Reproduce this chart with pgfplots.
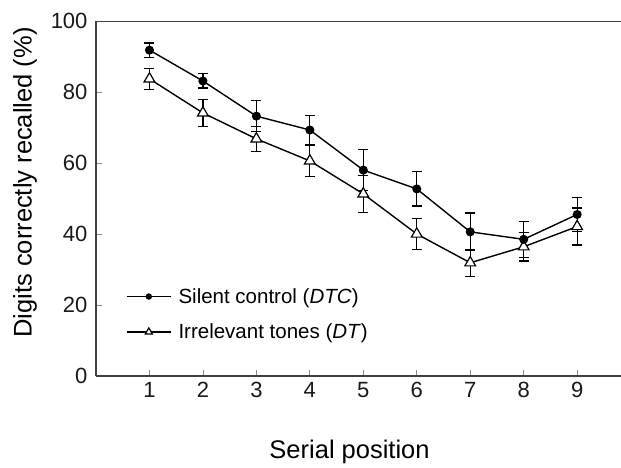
\documentclass[border=0pt]{standalone}
\usepackage{fontspec}
\setmainfont{Liberation Sans}
\usepackage{pgfplots}
\pgfplotsset{compat=1.18}
\begin{document}
\begin{tikzpicture}
\useasboundingbox (-96pt,-91pt) rectangle (525pt,376pt);
\begin{axis}[
  at={(0,0)}, anchor=south west,
  scale only axis, width=525pt, height=355pt,
  xmin=0, xmax=9.82, ymin=0, ymax=100,
  axis lines=left,
  axis line style={-, draw=black!75, line width=1.4pt},
  xtick={1,...,9}, ytick={0,20,...,100},
  tick align=inside, major tick length=6pt,
  tick style={black!45, line width=0.8pt},
  tick label style={font=\fontsize{22}{24}\selectfont, text=black!90},
  yticklabel style={xshift=-5pt},
  xticklabel style={yshift=-3pt},
  /pgf/number format/assume math mode=true,
  xlabel={Serial position},
  ylabel={Digits correctly recalled (\%)},
  label style={font=\fontsize{25.5}{28}\selectfont},
  xlabel style={at={(axis description cs:0.483,-0.214)}, anchor=center},
  ylabel style={at={(axis description cs:-0.135,0.545)}, anchor=center},
  legend style={draw=none, fill=none, at={(axis cs:0.56,17.4)}, anchor=west,
    font=\fontsize{20.5}{24}\selectfont, row sep=15pt, inner sep=0pt,
    nodes={inner xsep=7pt}},
  legend cell align=left,
  reverse legend,
  legend image code/.code={\draw[mark repeat=2, mark phase=2, #1]
    plot coordinates {(0pt,0pt) (22pt,0pt) (44pt,0pt)};},
  legend image post style={every mark/.append style={scale=0.65}},
  every axis plot/.append style={black, line width=1.4pt},
  error bars/error bar style={line width=1.2pt},
  error bars/error mark options={rotate=90, line width=1.2pt, mark size=5pt},
]
% Irrelevant tones (DT)
\addplot[mark=triangle*, mark size=6.2pt, mark options={fill=white, line width=1.2pt},
  error bars/.cd, y dir=both, y explicit]
  coordinates {
  (1,83.7) +- (0,2.9)
  (2,74.1) +- (0,3.8)
  (3,66.8) +- (0,3.5)
  (4,60.6) +- (0,4.4)
  (5,51.3) +- (0,5.2)
  (6,40.0) +- (0,4.4)
  (7,31.9) +- (0,3.8)
  (8,36.4) +- (0,4.0)
  (9,42.1) +- (0,5.2)
};
\addlegendentry{Irrelevant tones (\textit{DT})}
% Silent control (DTC)
\addplot[mark=*, mark size=3.8pt, mark options={fill=black},
  error bars/.cd, y dir=both, y explicit]
  coordinates {
  (1,91.8) +- (0,2.0)
  (2,83.1) +- (0,2.0)
  (3,73.2) +- (0,4.3)
  (4,69.3) +- (0,4.0)
  (5,58.0) +- (0,5.8)
  (6,52.7) +- (0,4.8)
  (7,40.6) +- (0,5.3)
  (8,38.5) +- (0,5.1)
  (9,45.5) +- (0,4.7)
};
\addlegendentry{Silent control (\textit{DTC})}
\draw[draw=black!75, line width=1.4pt] (rel axis cs:0,1) -- (rel axis cs:1,1);
\end{axis}
\end{tikzpicture}
\end{document}
